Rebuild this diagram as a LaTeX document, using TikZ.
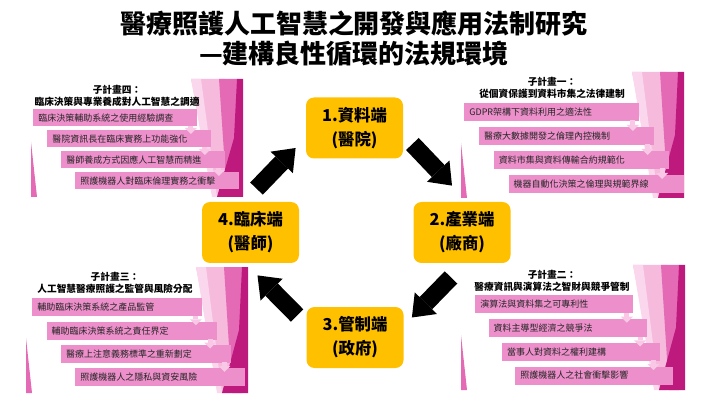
\documentclass[tikz,border=0pt]{standalone}
\usepackage{fontspec}
\setmainfont{Noto Sans CJK TC}
\usetikzlibrary{arrows.meta,calc}

\definecolor{endyellow}{RGB}{255,192,0}
\definecolor{boxpink}{RGB}{236,143,202}
\definecolor{steppink}{RGB}{248,200,230}
\definecolor{decopale}{RGB}{245,186,220}
\definecolor{decolight}{RGB}{250,215,236}
\definecolor{decomid}{RGB}{228,106,182}
\definecolor{decodark}{RGB}{190,26,126}

% slide decoration: left, right, top, bottom
\newcommand{\panelback}[4]{%
  \fill[decopale] (#2-52,#3) -- (#2-18,#3) -- (#2-18,#4) -- (#2-26,#4) -- cycle;
  \fill[decolight] (#2-52,#3) -- (#2-42,#3) -- (#2-26,#4) -- (#2-31,#4) -- cycle;
  \fill[decomid] (#2-24,#3) -- (#2-6,#3) -- (#2-6,#4) -- (#2-16,#4) -- cycle;
  \fill[decodark] (#2-6,#3) -- (#2,#3) -- (#2,#4) -- (#2-26,#4) -- (#2-9,{#3+0.5*(#4-#3)}) -- cycle;
  \fill[decomid] (#1,#4-55) -- (#1+6,#4) -- (#1,#4) -- cycle;
}

\begin{document}
\begin{tikzpicture}[x=0.5pt,y=-0.5pt,
    endbox/.style={fill=endyellow,rounded corners=4pt,minimum width=48.5pt,minimum height=30.5pt,inner sep=0pt,align=center,font=\fontsize{8.2}{12}\selectfont\bfseries},
    plantitle/.style={align=center,font=\fontsize{4.85}{5.8}\selectfont\bfseries},
    subbox/.style={fill=boxpink,anchor=north west,inner xsep=2.5pt,inner ysep=0pt,align=left,text=black!85,font=\fontsize{4.5}{5}\selectfont},
    bigarrow/.style={line width=8.75pt,-{Triangle[length=10pt,width=15.5pt,line width=0pt]}},
    steparrow/.style={steppink,line width=2.5pt,-{Triangle[length=3pt,width=6pt,line width=0pt]}}]

\useasboundingbox (0,0) rectangle (713,401);

% slide backgrounds
\panelback{31}{243}{79}{197}
\panelback{461}{684}{72}{198}
\panelback{26}{248}{267}{393}
\panelback{461}{685}{265}{390}

\node[align=center,font=\fontsize{13}{15}\selectfont\bfseries] (Title) at (354,38.5) {醫療照護人工智慧之開發與應用法制研究\\—建構良性循環的法規環境};

% the four ends
\node[endbox] (DataEnd) at (354.5,128) {1.資料端\\(醫院)};
\node[endbox] (Industry) at (462,232.5) {2.產業端\\(廠商)};
\node[endbox] (Regulate) at (355,337.5) {3.管制端\\(政府)};
\node[endbox] (Clinic) at (250.5,232.5) {4.臨床端\\(醫師)};

\draw[bigarrow] ($(DataEnd.east)+(9,16)$) to ($(Industry.north)+(-10,-16)$);
\draw[bigarrow] ($(Industry.south)+(-11,14)$) to ($(Regulate.east)+(8,-20)$);
\draw[bigarrow] ($(Regulate.west)+(-9,-22)$) to ($(Clinic.south)+(7,12)$);
\draw[bigarrow] ($(Clinic.north)+(6,-13)$) to ($(DataEnd.west)+(-10,20)$);

% subproject four
\node[plantitle] (PlanFourHead) at (117,96) {子計畫四：\\臨床決策與專業養成對人工智慧之調適};
\foreach \txt [count=\i from 0] in {臨床決策輔助系統之使用經驗調查,醫院資訊長在臨床實務上功能強化,醫師養成方式因應人工智慧而精進,照護機器人對臨床倫理實務之衝擊}
  \node[subbox,text width=77pt,minimum height=8.5pt] (PlanFour\i) at ({33+14*\i},{109+21*\i}) {\txt};
\foreach \i [count=\j from 1] in {0,1,2}
  \draw[steparrow] ($(PlanFour\i.south east)+(-7,-1)$) -- ($(PlanFour\i.south east |- PlanFour\j.north)+(-7,4)$);

% subproject one
\node[plantitle] (PlanOneHead) at (552,88) {子計畫一：\\從個資保護到資料市集之法律建制};
\foreach \txt [count=\i from 0] in {GDPR架構下資料利用之適法性,醫療大數據開發之倫理內控機制,資料市集與資料傳輸合約規範化,機器自動化決策之倫理與規範界線}
  \node[subbox,text width=82.5pt,minimum height=8.75pt] (PlanOne\i) at ({464+14.7*\i},{103+24*\i}) {\txt};
\foreach \i [count=\j from 1] in {0,1,2}
  \draw[steparrow] ($(PlanOne\i.south east)+(-7,-1)$) -- ($(PlanOne\i.south east |- PlanOne\j.north)+(-7,4)$);

% subproject three
\node[plantitle] (PlanThreeHead) at (115,283) {子計畫三：\\人工智慧醫療照護之監管與風險分配};
\foreach \txt [count=\i from 0] in {輔助臨床決策系統之產品監管,輔助臨床決策系統之責任界定,醫療上注意義務標準之重新劃定,照護機器人之隱私與資安風險}
  \node[subbox,text width=80pt,minimum height=9pt] (PlanThree\i) at ({32+14.3*\i},{298+23.3*\i}) {\txt};
\foreach \i [count=\j from 1] in {0,1,2}
  \draw[steparrow] ($(PlanThree\i.south east)+(-7,-1)$) -- ($(PlanThree\i.south east |- PlanThree\j.north)+(-7,4)$);

% subproject two
\node[plantitle] (PlanTwoHead) at (552,281) {子計畫二：\\醫療資訊與演算法之智財與競爭管制};
\foreach \txt [count=\i from 0] in {演算法與資料集之可專利性,資料主導型經濟之競爭法,當事人對資料之權利建構,照護機器人之社會衝擊影響}
  \node[subbox,text width=74pt,minimum height=9pt] (PlanTwo\i) at ({475+13.3*\i},{295+23.7*\i}) {\txt};
\foreach \i [count=\j from 1] in {0,1,2}
  \draw[steparrow] ($(PlanTwo\i.south east)+(-7,-1)$) -- ($(PlanTwo\i.south east |- PlanTwo\j.north)+(-7,4)$);

\end{tikzpicture}
\end{document}
